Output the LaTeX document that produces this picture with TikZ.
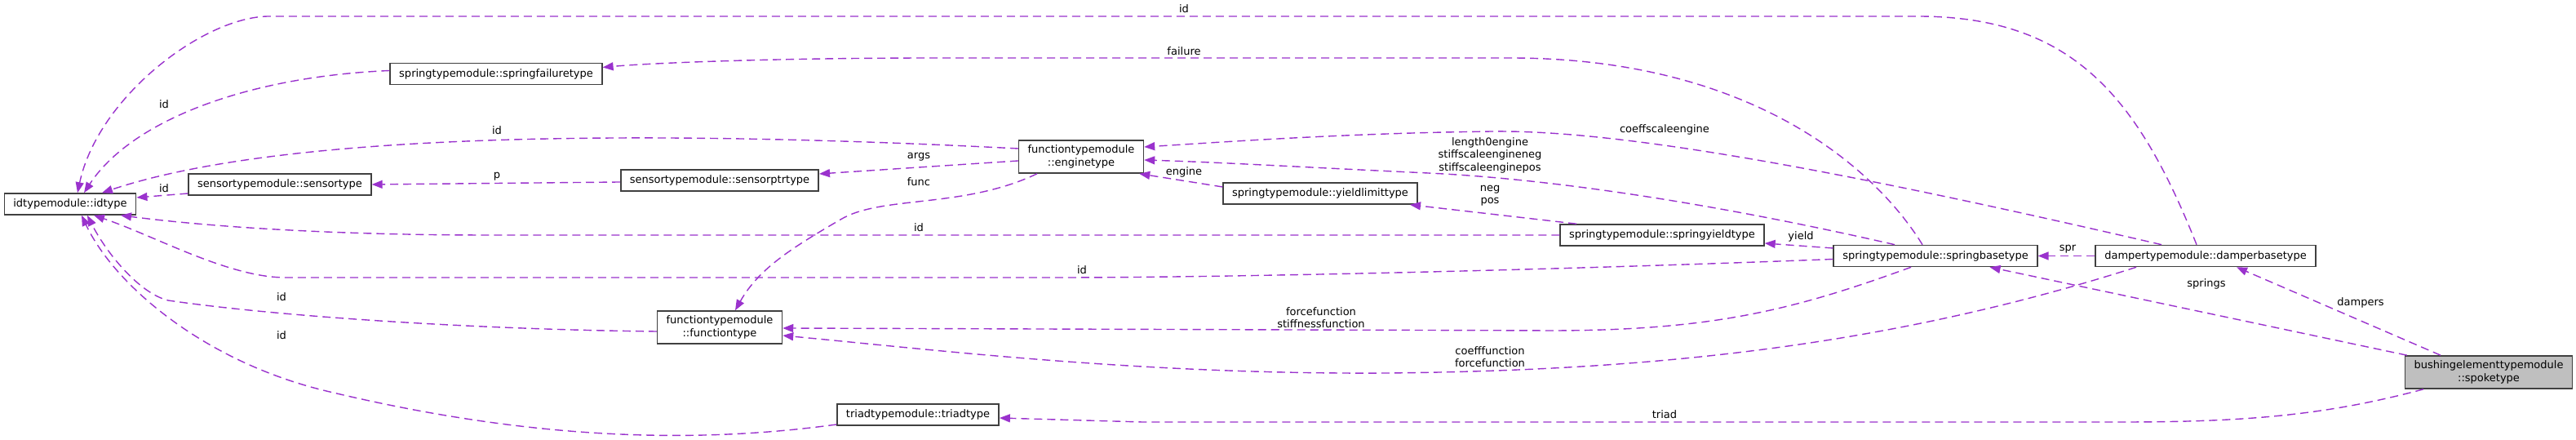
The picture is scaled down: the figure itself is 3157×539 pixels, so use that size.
\documentclass[tikz,border=0pt]{standalone}
\usepackage{fontspec}
\setmainfont{DejaVu Sans}
\usepackage{xcolor}
\usetikzlibrary{arrows.meta,calc}
\definecolor{orchid}{HTML}{9A32CD}

\begin{document}
\begin{tikzpicture}[
  x=0.5pt,y=0.5pt,
  font=\fontsize{6.5pt}{7.75pt}\selectfont,
  cls/.style={rectangle,draw=black!75,line width=0.8pt,fill=white,minimum height=13pt,inner xsep=5.5pt,inner ysep=1pt,align=center},
  cls2/.style={cls,minimum height=20pt},
  cur/.style={cls2,fill=black!25},
  ar/.style={color=orchid,dash pattern=on 5pt off 3pt,line width=0.7pt,-{Triangle[length=6.5pt,width=5pt]}},
  lb/.style={text=black,align=center,inner sep=0pt}
]
\useasboundingbox (0,0) rectangle (3157,539);
\node[cls] (idt) at (86,289) {idtypemodule::idtype};
\node[cls] (sfail) at (608,448.5) {springtypemodule::springfailuretype};
\node[cls] (sens) at (343,313) {sensortypemodule::sensortype};
\node[cls] (sptr) at (882,318) {sensortypemodule::sensorptrtype};
\node[cls2] (eng) at (1325,347) {functiontypemodule\\::enginetype};
\node[cls2] (func) at (882,138) {functiontypemodule\\::functiontype};
\node[cls] (triad) at (1125,31) {triadtypemodule::triadtype};
\node[cls] (ylim) at (1618,302) {springtypemodule::yieldlimittype};
\node[cls] (syield) at (2037,251) {springtypemodule::springyieldtype};
\node[cls] (sbase) at (2372,225.5) {springtypemodule::springbasetype};
\node[cls] (dbase) at (2703,225.5) {dampertypemodule::damperbasetype};
\node[cur] (spoke) at (3050,83) {bushingelementtypemodule\\::spoketype};
% edges into idtype
\draw[ar] ($(dbase.north)+(-11,0)$) .. controls (2620,420) and (2540,519) .. (2350,519) -- (330,519) .. controls (250,519) and (120,420) .. ($(idt.north)+(9,0)$) node[lb,at={(1451,528)}] (lid1) {id};
\draw[ar] ($(sfail.west)+(0,4)$) .. controls (300,445) and (160,390) .. ($(idt.north)+(17,0)$) node[lb,at={(201,411)}] (lid2) {id};
\draw[ar] ($(eng.west)+(0,10)$) .. controls (800,380) and (350,378) .. ($(idt.north)+(39,0)$) node[lb,at={(609,379)}] (lid3) {id};
\draw[ar] ($(sens.west)+(0,-11)$) -- ($(idt.east)+(0,8)$) node[lb,at={(201,308)}] (lid4) {id};
\draw[ar] (syield.west) -- (600,251) .. controls (400,251) and (250,262) .. ($(idt.south)+(62,0)$) node[lb,at={(1126,260)}] (lid5) {id};
\draw[ar] ($(sbase.west)+(0,-4)$) .. controls (1900,208) and (1500,199) .. (1300,199) -- (350,199) .. controls (280,199) and (190,250) .. ($(idt.south)+(29,0)$) node[lb,at={(1326,208)}] (lid6) {id};
\draw[ar] ($(func.west)+(0,-5)$) .. controls (600,135) and (350,150) .. (206,171) .. controls (170,180) and (130,230) .. ($(idt.south)+(21,0)$) node[lb,at={(345,175)}] (lid7) {id};
\draw[ar] ($(triad.west)+(0,-12)$) .. controls (850,-5) and (650,0) .. (400,60) .. controls (250,96) and (140,190) .. ($(idt.south)+(14,0)$) node[lb,at={(345,128)}] (lid8) {id};
% other edges
\draw[ar] ($(sbase.north)+(-16,0)$) .. controls (2300,330) and (2150,468) .. (1850,468) -- (1150,468) .. controls (950,468) and (800,462) .. ($(sfail.east)+(0,8)$) node[lb,at={(1451,476)}] (lfail) {failure};
\draw[ar] ($(sptr.west)+(0,-2)$) -- (sens.east) node[lb,at={(609,323)}] (lp) {p};
\draw[ar] ($(eng.west)+(0,-5)$) -- ($(sptr.east)+(0,8)$) node[lb,at={(1126,347)}] (largs) {args};
\draw[ar] ($(eng.south)+(-54,0)$) .. controls (1180,283) and (1080,300) .. (1030,270) .. controls (970,235) and (930,210) .. ($(func.north)+(19,0)$) node[lb,at={(1126,316)}] (lfunc) {func};
\draw[ar] ($(syield.north)+(-105,0)$) -- ($(ylim.south)+(110,0)$) node[lb,at={(1826,299.5)}] (lnp) {neg\\pos};
\draw[ar] ($(ylim.west)+(0,8)$) -- ($(eng.south east)+(-6,0)$) node[lb,at={(1451,328)}] (leng) {engine};
\draw[ar] ($(sbase.north)+(-50,0)$) .. controls (2100,290) and (1900,320) .. (1750,327) .. controls (1600,334) and (1500,340) .. ($(eng.east)+(0,-4)$) node[lb,at={(1826,349)}] (lstiff) {length0engine\\stiffscaleengineneg\\stiffscaleenginepos};
\draw[ar] ($(dbase.north)+(-54,0)$) .. controls (2300,320) and (2000,380) .. (1830,378) .. controls (1650,376) and (1500,365) .. ($(eng.east)+(0,12)$) node[lb,at={(2040,380)}] (lcoef) {coeffscaleengine};
\draw[ar] ($(sbase.west)+(0,9.5)$) -- ($(syield.east)+(0,-10)$) node[lb,at={(2207,249)}] (lyield) {yield};
\draw[ar] ($(sbase.south)+(-30,0)$) .. controls (2200,160) and (2100,134) .. (1900,134) -- ($(func.east)+(0,-1)$) node[lb,at={(1619,150)}] (lforce) {forcefunction\\stiffnessfunction};
\draw[ar] ($(dbase.south)+(-85,0)$) .. controls (2300,110) and (2000,85) .. (1700,82) .. controls (1400,80) and (1150,110) .. ($(func.east)+(0,-10)$) node[lb,at={(1826,102)}] (lcfun) {coefffunction\\forcefunction};
\draw[ar] (dbase.west) -- (sbase.east) node[lb,at={(2534,234)}] (lspr) {spr};
\draw[ar] ($(spoke.north west)+(3,0)$) -- ($(sbase.south east)+(-59,0)$) node[lb,at={(2704,191)}] (lspr2) {springs};
\draw[ar] ($(spoke.north)+(-59,0)$) -- ($(dbase.south)+(38,0)$) node[lb,at={(2893,168)}] (ldamp) {dampers};
\draw[ar] ($(spoke.south)+(-80,0)$) .. controls (2850,30) and (2750,22) .. (2600,22) -- (1400,22) -- ($(triad.east)+(0,-4)$) node[lb,at={(2040,31)}] (ltriad) {triad};
\end{tikzpicture}
\end{document}
